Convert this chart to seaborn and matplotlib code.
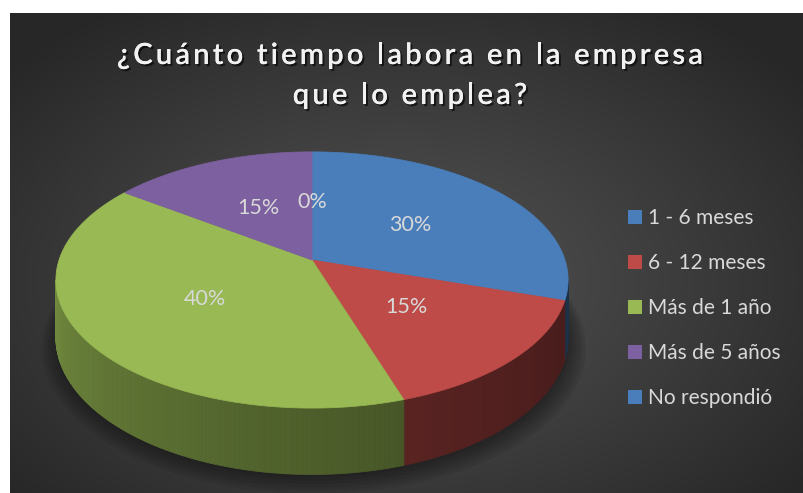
import numpy as np
import matplotlib
matplotlib.use("Agg")
import matplotlib.pyplot as plt
import matplotlib.patheffects as pe
from matplotlib.patches import Polygon, Patch
from matplotlib.font_manager import FontProperties, findfont, get_font
import seaborn as sns

sns.set_style("white")
plt.rcParams['font.family'] = ['Lato', 'DejaVu Sans']

# data
categories = ["1 - 6 meses", "6 - 12 meses", "Más de 1 año", "Más de 5 años", "No respondió"]
percentages = [30, 15, 40, 15, 0]
slice_colors = sns.color_palette(["#4a7ebb", "#be4b48", "#98b954", "#7d60a0", "#4a7ebb"])
title_lines = ["¿Cuánto tiempo labora en la empresa", "que lo emplea?"]

# 3d pie geometry (pixels), with a bit of perspective
CX, CY, R, B, D, C = 312, 260, 253, 125, 56, 0.156


def proj(theta, r=1.0, z=0.0):
    u = r * np.sin(theta)
    v = r * np.cos(theta)
    s = 1 / (1 + C * v)
    return CX + R * u * s, CY - B * v * s + D * z * s


fig = plt.figure(figsize=(8.04, 4.93), dpi=100)
fig.patch.set_facecolor("white")
ax = fig.add_axes([0, 0, 1, 1])
ax.set_xlim(0, 804)
ax.set_ylim(493, 0)
ax.axis("off")

# radial gradient background
gx, gy = np.meshgrid(np.linspace(10, 804, 400), np.linspace(13, 493, 250))
rr = np.sqrt(((gx - 400) / 520) ** 2 + ((gy - 280) / 330) ** 2)
lev = 0x52 - (0x52 - 0x27) * np.clip(rr, 0, 1) ** 1.1
bg = np.dstack([lev, lev, lev]) / 255
ax.imshow(bg, extent=(10, 804, 493, 13), aspect="auto", zorder=0, interpolation="bilinear")

# soft shadow under the pie
th = np.linspace(0, 2 * np.pi, 200)
for k in range(6):
    sx, sy = proj(th, 1.0 + 0.012 * k, 1.0)
    ax.add_patch(Polygon(np.column_stack([sx + 2, sy + 3 + k]), closed=True,
                         facecolor="black", edgecolor="none", alpha=0.07, zorder=1))

# slice angles (clockwise from 12 o'clock)
frac = np.array(percentages) / sum(percentages)
ends = np.cumsum(frac) * 2 * np.pi
starts = ends - frac * 2 * np.pi

# side walls
ts = np.arccos(-C)
te = 2 * np.pi - ts
for a0, a1, col in zip(starts, ends, slice_colors):
    lo, hi = max(a0, ts), min(a1, te)
    if hi <= lo:
        continue
    n = max(2, int(np.degrees(hi - lo)))
    edges = np.linspace(lo, hi, n + 1)
    for b0, b1 in zip(edges[:-1], edges[1:]):
        t = ((b0 + b1) / 2 - ts) / (te - ts)
        f = 0.38 + 0.37 * t ** 1.5
        shade = tuple(np.array(col) * f)
        seg = np.linspace(b0, b1, 4)
        x0, y0 = proj(seg, 1.0, 0.0)
        x1, y1 = proj(seg[::-1], 1.0, 1.0)
        pts = np.column_stack([np.r_[x0, x1], np.r_[y0, y1]])
        ax.add_patch(Polygon(pts, closed=True, facecolor=shade, edgecolor=shade,
                             linewidth=0.6, zorder=2))

# top faces
for a0, a1, col in zip(starts, ends, slice_colors):
    if a1 - a0 <= 0:
        continue
    arc = np.linspace(a0, a1, 120)
    x, y = proj(arc)
    pts = np.vstack([[CX, CY], np.column_stack([x, y])])
    ax.add_patch(Polygon(pts, closed=True, facecolor=col, edgecolor=col,
                         linewidth=0.5, zorder=3))

# data labels
for a0, a1, p in zip(starts, ends, percentages):
    lx, ly = proj((a0 + a1) / 2, 0.5)
    ax.text(lx, ly, f"{p}%", ha="center", va="center", fontsize=15.5,
            color="#d9d9d9", zorder=4)

# title, drawn letter by letter to get the wide tracking
tsize = 21
tprop = FontProperties(family="Lato", weight="semibold", size=tsize)
tfont = get_font(findfont(tprop))
tfont.set_size(tsize, 100)
tracking = 3.2
shadow = [pe.withSimplePatchShadow(offset=(1.5, -1.5), shadow_rgbFace="black", alpha=0.6), pe.Normal()]
for line, ty in zip(title_lines, [56, 96]):
    adv = []
    for ch in line:
        g = tfont.load_char(ord(ch))
        adv.append(g.linearHoriAdvance / 65536)
    adv = np.array(adv)
    total = adv.sum() + tracking * (len(line) - 1)
    x = 410 - total / 2
    for ch, a in zip(line, adv):
        if ch != " ":
            ax.text(x, ty, ch, ha="left", va="center", fontproperties=tprop,
                    color="#f2f2f2", zorder=5, path_effects=shadow)
        x += a + tracking

# legend
handles = [Patch(facecolor=c, edgecolor="none") for c in slice_colors]
ax.legend(handles, categories, loc="center left", bbox_to_anchor=(618 / 804, 1 - 308 / 493),
          frameon=False, fontsize=15, labelcolor="#d9d9d9", handlelength=0.65,
          handleheight=0.65, handletextpad=0.3, labelspacing=1.2, borderpad=0)

fig.savefig("out.png", dpi=100, facecolor=fig.get_facecolor())
